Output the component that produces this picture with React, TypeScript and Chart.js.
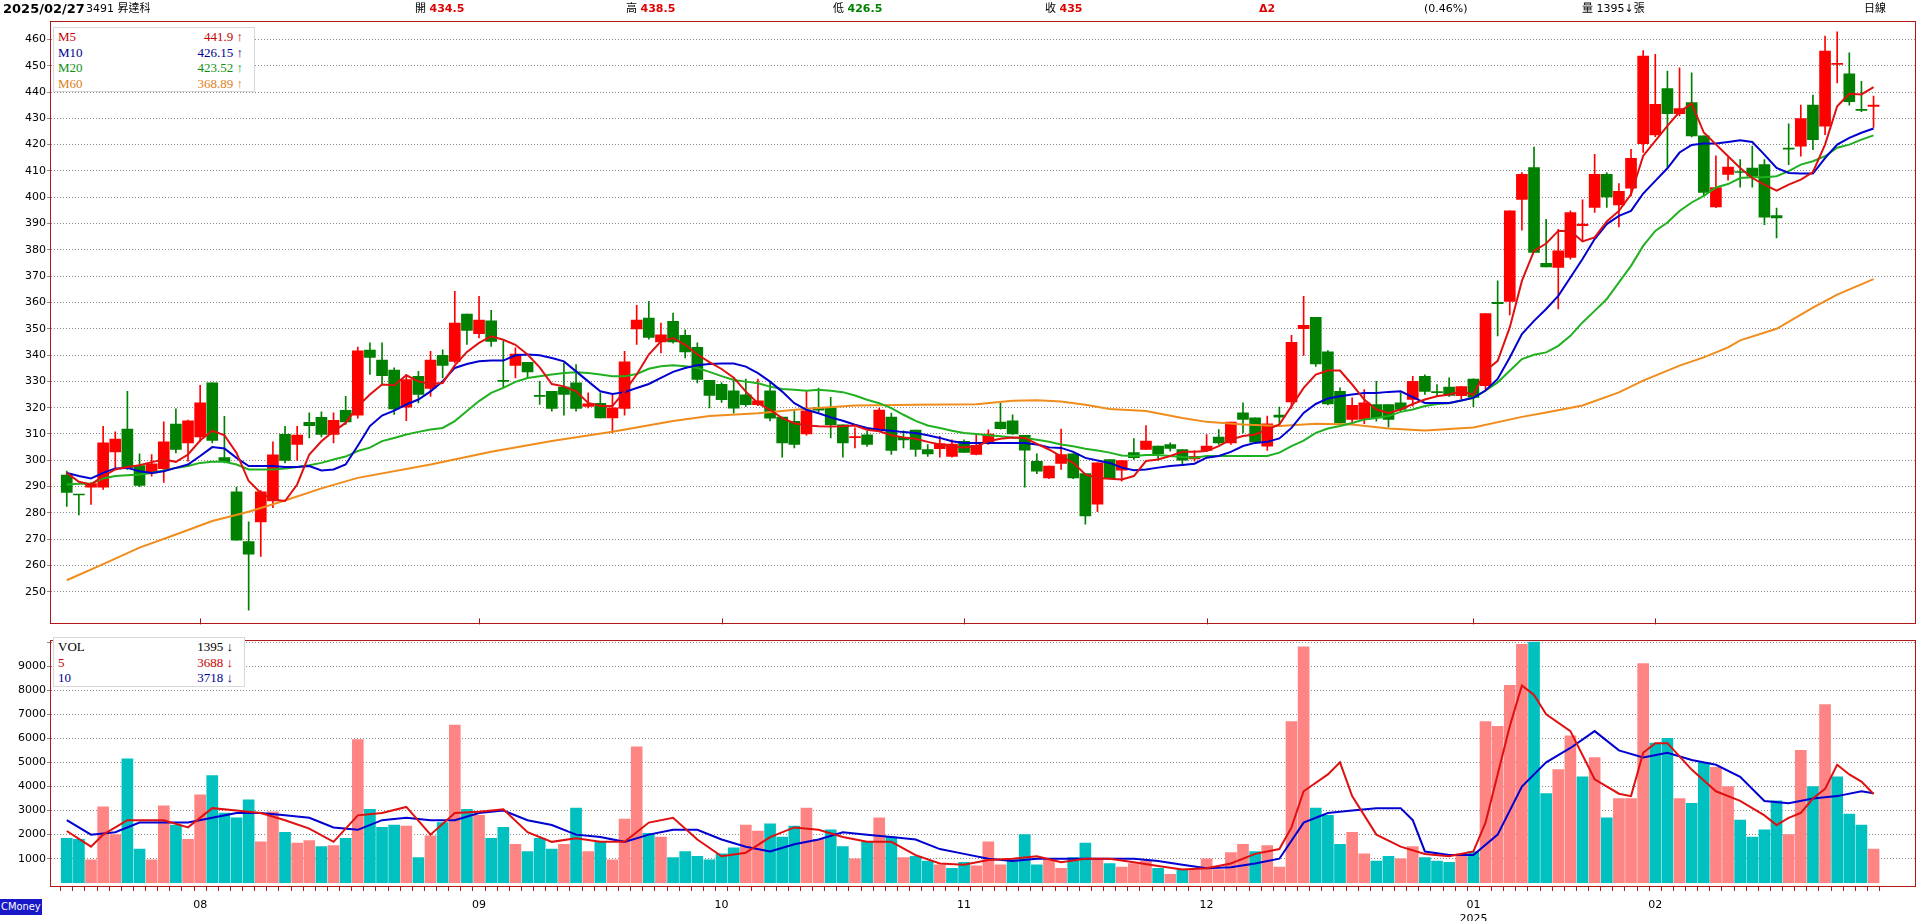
import React, { useEffect, useRef } from "react";
import { Chart, registerables } from "chart.js";

Chart.register(...registerables);

// ---------------- DATA ----------------
const openP = [294.4,287,289.8,289.8,303.2,311.9,298,295.2,296.8,313.8,306.6,308.9,329.4,301,288,269.1,276.6,284.5,309.9,306,314.4,316.3,309.8,319,317.1,341.9,338.1,334.3,320.2,331.9,327.3,339.9,337.6,355.6,348.1,353,330.2,336.1,337.2,324.5,326.2,327.8,329.4,320.5,321.6,316.1,319.7,349.9,354.1,345,352.8,347.5,342.9,330.4,328.9,326.4,324.9,321.1,326.4,316.4,314.8,310,320.1,319.8,313.5,308.6,309.7,311.6,316.4,308.7,311.5,304.1,304.4,301.5,307.2,302.2,307,314.5,315,309.5,299.6,293.3,298.8,302.4,294.9,283.3,300.3,296.2,302.9,304.1,305.4,306,304.1,300.5,303.7,308.8,306.6,318,316.1,305.4,317.2,322.2,350,354.3,341.2,326.2,315.5,315.5,321.2,321.2,321.8,323.1,331.9,326.1,327.8,324.6,330.9,328.4,360,360.4,399.2,411.3,374.9,373.3,377.1,389.2,396.1,408.7,397.1,403.4,420.4,423.7,441.3,431.8,436,423.3,396.3,408.7,409.8,411.1,412.4,393,418.7,419.4,435,427,450.5,446.9,433.2,434.5];
const highP = [295.9,287,291.5,312.9,310.8,326.2,302.4,302.2,314.6,319.6,315.3,328.5,329.4,316.7,289.8,276.6,288.5,307,312.9,312.9,318,318.4,318,324.3,343,344.6,344.6,335.1,332.6,333.8,341.4,342,364.2,355.6,362.3,357,345.2,342.7,337.2,330,326.2,337,336.4,325.6,325.6,325,341.4,358.9,360.4,352.2,356,349.6,344.6,330.4,329.5,331.2,330.9,330.9,329.9,316.4,318.6,326.4,327.4,323.9,313.5,312.3,311,319.8,317.9,311.2,311.5,306,309.1,307.8,307.8,309.5,311.6,321.7,317.3,309.5,302.4,297.8,311.9,302.4,294.9,299,300.3,300,308.2,313.2,305.4,306.6,304.1,303.7,309.8,311.7,314.5,321.8,316.1,316.8,320.2,347.5,362.3,354.3,341.7,327.5,323.7,326.9,330,321.2,325.6,331.9,332.5,328.8,331.3,328,331,355.8,368.2,394.8,409.4,419.1,391.6,387.8,394.8,399,416.3,409.4,405.2,418.2,455.8,454.3,448,449.2,447.3,423.3,415.7,415.1,414.3,419.4,414.3,395.9,427.9,435,438.8,461.3,462.9,454.9,444.1,438.5];
const lowP = [282.5,279.2,283.2,288.9,297.1,296.5,290,294,291.6,302.8,299.7,307.2,306.6,299,269.6,243,263.4,282,299,299.9,308.5,308.9,306.6,313.6,316,332.6,329,317.4,315.1,321.8,324.3,331.3,337,344,346.5,343.3,327.5,331.3,331.3,321.2,318.7,317.1,318.7,319.9,316.1,310.4,317.1,344,346,340.8,344.5,338.9,329.4,319.9,322,317.9,320.5,320.8,315,301.2,304.7,309.5,318.5,308.5,301.2,304.7,305.3,311,302.2,304.7,301.5,301.5,301.2,301.2,303,302,306,311.8,309.8,289.8,294.9,293,296.5,293,275.7,280.5,293,292.1,300.3,304,300,303.5,298.1,299.7,303.5,306,306,310.4,306.7,303.7,313.6,319.7,339.9,335.7,321,314,314.6,313.9,314.9,312.6,318.8,320.6,325,324.3,324.3,323.3,320.4,326.5,347.3,355.3,387.5,379,373.5,357.5,376.5,383.4,394.2,396.1,388.7,400.5,417,423,411.3,430.9,422.9,400.9,396,406.5,403.8,403.8,389.6,384.5,412.4,415.6,418.1,423.8,443.5,435,432.5,426.5];
const closeP = [287.8,286.8,291.1,306.6,308.1,297.1,290.4,298.6,307,304.1,315,321.8,307.5,299.5,269.6,264.3,288,302.1,299.9,309.6,313.2,309.8,315.2,314.6,341.6,339.1,332.2,319.5,330.7,325,338.1,336.1,352.2,349.4,353.3,345.2,330,340.4,333.6,324.3,319.7,325,319.7,321.5,316.1,319.9,337.4,353.3,346.7,347.7,345,341.2,330.7,324.7,323,319.8,321.1,322.6,316,306.6,306,318.8,319,313.5,306.6,308.8,306,319.1,303.7,307.7,304.1,302.4,306.3,306.2,303,305.7,310,312,310,303.8,295.9,297.8,302.2,293.3,278.8,299,293.1,299.9,301,307.3,302.5,304.5,300,301.5,305.4,306.6,314.5,315.5,306.9,313.9,316.4,344.8,351.3,336.6,321.4,314.2,320.9,321.8,316.1,315.5,319.3,330,326.2,325.7,324.7,328,323.9,355.8,359.5,394.8,408.7,379,373.5,379.6,394.2,389.8,408.7,400.1,402.2,414.8,453.7,435.3,431.8,433.7,423.3,401.8,403.7,411.5,409.4,408,392.4,392.1,418.3,429.9,421.9,455.6,450.9,436.3,433,435];

const ma5 = [295.2,291.8,290.8,294,296.5,297.4,298.1,299.3,300.3,299.4,302.2,307.5,311.3,309.5,302.8,292.1,287.6,285.1,284.5,290.8,302.2,307.2,311,314.2,320.5,325,328.8,328.5,332.3,330,329,329.4,336.1,341.2,344.6,347.1,345.8,343.9,340.2,335.3,329,328.1,326.2,321.8,320.6,320.6,326.2,332.6,340.2,345.2,346.5,343.9,340.2,337.3,334.7,331.4,326.1,321.7,319.2,316,314.1,313.2,312.9,312.8,312.9,313.2,311.6,311,309.5,308.7,308.2,307,306,305.3,304.9,305.3,307.2,308.2,308.7,308.5,306.2,304.1,301.5,299,294.6,293.3,293,292.7,294,299.7,300.3,301.6,303.2,303.2,303.5,305.4,307.9,309.2,309.8,311.7,313.6,320.6,327.5,332.6,334.1,334.1,328.8,323.1,319.3,318,319.3,321.4,323.1,324.3,325,326.2,324.9,334,337.8,350.5,368.2,379.6,382.4,387.2,387.2,383.2,384.7,390.8,394.8,401.1,415.7,421.4,427.1,432.5,435.6,424.6,420.1,415.6,411.1,407.3,404.8,402.5,404.8,406.7,409.6,420,434.6,439.3,439.1,441.9];
const ma10 = [295.2,294,293.1,295.2,296.9,297.1,295.8,295.2,295.8,297.1,298.4,301.6,305,304.5,300.9,297.8,297.8,297.8,297.4,297.4,297.8,296.1,296.5,298.4,305.5,313,317,318.9,321.2,323.1,326.2,330,335.1,336.6,337.6,337.9,337.9,339.9,340.2,339.9,338.9,337.6,333.8,330,326.2,325.2,325.9,327.5,329,331.3,333.6,335.1,336.1,336.6,336.8,336.8,335.6,333.1,329.9,326.1,321.7,319.2,317.9,316.3,315,313.5,312.3,311.6,311.2,310.7,310.4,309.5,308.5,307.2,306.6,306.6,306.6,306.6,306.6,306.6,306,304.9,304.7,303.2,300.9,299.9,299,297.2,296.2,296.5,297.2,297.8,298.2,298.7,301,301.6,303.2,305.4,306.6,307,308.3,312.3,318,321.4,323.5,324.3,325,325.6,325.6,326,326.2,324,321.8,321.8,321.8,322.7,323.7,326.5,330.9,339.1,348,353,357.5,362.5,369.5,376.5,384.1,389.8,392.9,394.8,401.4,406.2,411,417,419.9,420.4,420.4,421,421.7,421,416.2,411.1,409.2,409,409,414.9,420,422.6,424.5,426.15];
const ma20 = [290.8,291.1,291.1,293.1,294,294.3,294.6,295.2,296.1,297.1,297.8,299,299.4,299.4,298.4,296.5,296.5,296.5,296.9,297.4,298.1,299,300.3,301.4,303.5,304.8,307.3,308.5,309.8,310.8,311.7,312.3,314.9,318.7,322.5,325.6,327.5,329.8,331.3,331.9,332.6,333.2,333.5,333.2,332.6,331.9,331.9,332.8,334.8,335.7,336.1,335.7,335.1,333.6,332,330.5,329.9,329.3,328,327.1,326.8,326.4,326.8,326.4,325.9,324.6,323,321.7,319.8,317.3,315,313.2,312.3,311.2,310.4,310,309.5,309.1,308.7,308.5,307.8,307,306,305.3,304.4,303.7,302.9,301.8,301.6,302,302,301.6,301.2,301,301.6,301.6,301.6,301.6,301.6,301.6,302.9,305.4,307.5,310.4,312.1,313,314.2,315.5,316.1,316.8,318.4,319.3,320.6,321.4,321.7,322.7,323.7,326.5,329.6,334,338.5,340.1,341,343.5,347.3,352.4,356.8,361.3,367.6,373.9,381.5,387.2,390.4,394.8,398,400.5,403.7,405,407.3,407.6,407.6,408,409.9,412.4,413.7,415.6,418.8,420,421.9,423.52];
const ma60Idx = [0,3,6,9,12,15,18,21,24,30,35,40,45,50,53,57,61,65,70,75,78,80,82,84,86,89,92,94,97,100,103,106,109,112,116,120,122,125,128,130,133,135,137,138,141,144,146,149];
const ma60Val = [254.4,260.5,266.8,271.8,276.9,280.4,284.7,289.3,293.3,298.4,303.2,307.3,310.8,314.9,316.8,317.9,319.6,320.8,321.1,321.3,322.6,322.8,322.3,321.1,319.5,318.7,316.1,314.6,313.6,313,313.9,313.6,312.1,311.3,312.5,316.5,318.2,320.8,325.8,330.3,336,339.1,342.9,345.6,350,358,363,368.89];

const volume = [1850,1800,950,3150,2000,5150,1400,950,3200,2400,1800,3650,4450,2900,2700,3450,1700,2950,2100,1650,1750,1500,1550,1850,5950,3050,2300,2400,2350,1050,1950,2500,6550,3050,2800,1850,2300,1600,1300,1850,1400,1600,3100,1300,1700,950,2650,5650,2050,1900,1050,1300,1100,950,1200,1450,2400,2150,2450,1900,2350,3100,1800,2200,1500,1000,1700,2700,1900,1050,1100,900,750,600,850,700,1700,750,1000,2000,750,950,600,1050,1650,1000,800,650,800,900,600,350,550,600,1000,550,1250,1600,1300,1550,650,6700,9800,3100,2800,1600,2100,1200,900,1100,1000,1500,1050,900,850,1200,1300,6700,6500,8200,9900,10000,3700,4700,6100,4400,5200,2700,3500,3500,9100,5800,6000,3500,3300,5000,4800,4000,2600,1900,2200,3400,2000,5500,4000,7400,4400,2850,2400,1395];
const volMa5Idx = [0,2,3,5,8,10,12,14,16,18,20,22,24,26,28,30,32,34,36,38,40,42,44,46,48,50,52,54,56,58,60,62,64,66,68,70,72,74,76,78,80,82,84,86,88,90,92,94,96,98,100,101,102,104,105,106,108,110,112,114,116,117,118,119,120,121,122,124,126,128,129,130,131,132,134,136,138,140,141,142,143,144,145,146,147,148,149];
const volMa5Val = [2150,1500,2000,2600,2600,2300,3100,3000,2900,2600,2250,1700,2800,2900,3150,2000,2900,2950,3050,2100,1700,1850,1700,1700,2500,2700,1800,1100,1250,1900,2300,2200,1900,1700,1700,1150,800,750,950,1000,1100,850,1000,1000,850,700,550,600,800,1200,1400,2300,3800,4500,5000,3600,2000,1500,1200,1100,1300,2500,4500,6500,8200,7800,7000,6300,4300,3700,3600,5400,5800,5800,4700,3800,3400,2800,2400,2700,2900,3500,3900,4900,4500,4200,3688];
const volMa10Idx = [0,2,4,6,8,10,12,14,16,18,20,22,24,26,28,30,32,34,36,38,40,42,44,46,48,50,52,54,56,58,60,62,64,66,68,70,72,74,76,78,80,82,84,86,88,90,92,94,96,98,100,102,104,106,108,110,111,112,114,116,118,120,122,124,126,128,130,132,134,136,138,140,142,144,146,148,149];
const volMa10Val = [2600,2000,2100,2500,2500,2500,2700,2900,2900,2800,2700,2300,2200,2600,2700,2600,2600,2900,3000,2600,2400,2000,1900,1700,2000,2200,2200,1800,1500,1300,1600,1800,2100,2000,1900,1800,1400,1200,1000,900,1000,1000,1000,1000,1000,900,750,600,650,800,1000,2500,2900,3000,3100,3100,2600,1300,1150,1150,2000,4000,5000,5600,6300,5500,5200,5400,5100,4900,4400,3400,3300,3500,3600,3800,3718];

const priceTicks = [250,260,270,280,290,300,310,320,330,340,350,360,370,380,390,400,410,420,430,440,450,460];
const volTicks = [1000,2000,3000,4000,5000,6000,7000,8000,9000,10000];
const monthTickIdx = [11,34,54,74,94,116,131];
const monthTickText = ["08","09","10","11","12","01","02"];
const yearUnderTick: Record<number, string> = { 116: "2025" };

// ---------------- STYLE ----------------
const X_MIN = -1.3;
const X_MAX = 152.5;
const FRAME = "#b01818";
const CANDLE_UP = "#ff0000";
const CANDLE_DN = "#008000";
const VOL_UP = "#ff8484";
const VOL_DN = "#00c0c0";
const C5 = "#e01010";
const C10 = "#0000d0";
const C20 = "#20b020";
const C60 = "#f08c1c";
const GRID = "#8a8a8a";
const TICK_FONT = { family: "DejaVu Sans, sans-serif", size: 11 };

const idx = closeP.map((_, i) => i);
const candleUp = (i: number) => closeP[i] >= openP[i];
const volUp = (i: number) => (i === 0 ? candleUp(0) : closeP[i] >= closeP[i - 1]);

const framePlugin = {
  id: "frame",
  afterDraw(chart: any) {
    const { ctx, chartArea: a } = chart;
    ctx.save();
    ctx.strokeStyle = FRAME;
    ctx.lineWidth = 1;
    ctx.strokeRect(Math.round(a.left) - 0.5, Math.round(a.top) + 0.5, Math.round(a.right - a.left), Math.round(a.bottom - a.top) - 1);
    ctx.restore();
  },
};

// short month marks along the inside bottom edge of the price panel
const monthMarkPlugin = {
  id: "monthMarks",
  afterDraw(chart: any) {
    const { ctx, chartArea: a, scales } = chart;
    ctx.save();
    ctx.strokeStyle = FRAME;
    ctx.lineWidth = 1;
    ctx.beginPath();
    monthTickIdx.forEach((v) => {
      const px = Math.round(scales.x.getPixelForValue(v)) + 0.5;
      ctx.moveTo(px, a.bottom - 6);
      ctx.lineTo(px, a.bottom);
    });
    ctx.stroke();
    ctx.restore();
  },
};

function lineDs(label: string, xs: number[], ys: number[], color: string) {
  return {
    type: "line" as const,
    label,
    data: xs.map((x, k) => ({ x, y: ys[k] })),
    borderColor: color,
    backgroundColor: color,
    borderWidth: 2,
    pointRadius: 0,
    tension: 0,
    order: 0,
  };
}

export default function App() {
  const mainRef = useRef<HTMLCanvasElement>(null);
  const volRef = useRef<HTMLCanvasElement>(null);

  useEffect(() => {
    const candleColors = idx.map((i) => (candleUp(i) ? CANDLE_UP : CANDLE_DN));
    const main = new Chart(mainRef.current as HTMLCanvasElement, {
      type: "bar",
      data: {
        datasets: [
          lineDs("M5", idx, ma5, C5),
          lineDs("M10", idx, ma10, C10),
          lineDs("M20", idx, ma20, C20),
          lineDs("M60", ma60Idx, ma60Val, C60),
          {
            type: "bar",
            label: "body",
            data: idx.map((i) => ({ x: i, y: [openP[i], closeP[i]] })),
            backgroundColor: candleColors,
            borderWidth: 0,
            barThickness: 11,
            minBarLength: 1,
            grouped: false,
            order: 5,
          } as any,
          {
            type: "bar",
            label: "wick",
            data: idx.map((i) => ({ x: i, y: [lowP[i], highP[i]] })),
            backgroundColor: candleColors,
            borderWidth: 0,
            barThickness: 1,
            minBarLength: 1,
            grouped: false,
            order: 6,
          } as any,
        ],
      },
      options: {
        animation: false,
        responsive: false,
        maintainAspectRatio: false,
        layout: { padding: { top: 21, bottom: 5, left: 0, right: 1 } },
        plugins: { legend: { display: false }, tooltip: { enabled: false } },
        scales: {
          x: {
            type: "linear",
            min: X_MIN,
            max: X_MAX,
            offset: false,
            afterBuildTicks: (s: any) => {
              s.ticks = monthTickIdx.map((v) => ({ value: v }));
            },
            afterFit: (s: any) => {
              s.height = 0;
            },
            grid: { display: false },
            border: { display: false },
            ticks: { display: false },
          },
          y: {
            type: "linear",
            min: 237.6,
            max: 467,
            afterBuildTicks: (s: any) => {
              s.ticks = priceTicks.map((v) => ({ value: v }));
            },
            afterFit: (s: any) => {
              s.width = 51;
            },
            grid: { color: GRID, tickLength: 4, lineWidth: 1 },
            border: { display: false, dash: [1, 2] },
            ticks: { font: TICK_FONT, color: "#000", padding: 1 },
          },
        },
      } as any,
      plugins: [framePlugin, monthMarkPlugin],
    });

    const volColors = idx.map((i) => (volUp(i) ? VOL_UP : VOL_DN));
    const vol = new Chart(volRef.current as HTMLCanvasElement, {
      type: "bar",
      data: {
        datasets: [
          lineDs("5", volMa5Idx, volMa5Val, C5),
          lineDs("10", volMa10Idx, volMa10Val, C10),
          {
            type: "bar",
            label: "VOL",
            data: idx.map((i) => ({ x: i, y: volume[i] })),
            backgroundColor: volColors,
            borderWidth: 0,
            barThickness: 11,
            grouped: false,
            order: 5,
          } as any,
        ],
      },
      options: {
        animation: false,
        responsive: false,
        maintainAspectRatio: false,
        layout: { padding: { top: 3, bottom: 0, left: 0, right: 1 } },
        plugins: { legend: { display: false }, tooltip: { enabled: false } },
        scales: {
          x: {
            type: "linear",
            min: X_MIN,
            max: X_MAX,
            offset: false,
            afterBuildTicks: (s: any) => {
              s.ticks = idx.map((v) => ({ value: v }));
            },
            afterFit: (s: any) => {
              s.height = 34;
            },
            grid: { drawOnChartArea: false, drawTicks: true, tickLength: 4, color: FRAME, tickColor: FRAME },
            border: { display: false },
            ticks: {
              autoSkip: false,
              maxRotation: 0,
              minRotation: 0,
              padding: 8,
              font: TICK_FONT,
              color: "#000",
              callback: (v: any) => {
                const k = monthTickIdx.indexOf(Number(v));
                if (k < 0) return "";
                const y = yearUnderTick[Number(v)];
                return y ? [monthTickText[k], y] : monthTickText[k];
              },
            },
          },
          y: {
            type: "linear",
            min: -175,
            max: 10100,
            afterBuildTicks: (s: any) => {
              s.ticks = volTicks.map((v) => ({ value: v }));
            },
            afterFit: (s: any) => {
              s.width = 51;
            },
            grid: { color: GRID, tickLength: 4 },
            border: { display: false, dash: [1, 2] },
            ticks: {
              font: TICK_FONT,
              color: "#000",
              padding: 1,
              callback: (v: any) => (Number(v) > 9000 ? "" : String(v)),
            },
          },
        },
      } as any,
      plugins: [framePlugin],
    });

    return () => {
      main.destroy();
      vol.destroy();
    };
  }, []);

  const hdr: React.CSSProperties = {
    position: "absolute",
    top: 1,
    fontFamily: "DejaVu Sans, 'Noto Sans CJK TC', sans-serif",
    fontSize: 11,
    lineHeight: "16px",
    whiteSpace: "nowrap",
    color: "#000",
  };
  const legendRow = (top: number, name: string, value: string, color: string): React.ReactNode => (
    <div
      key={name}
      style={{
        position: "absolute",
        left: 4,
        right: 11,
        top,
        height: 16,
        lineHeight: "16px",
        display: "flex",
        justifyContent: "space-between",
        color,
        fontFamily: "'Liberation Serif', serif",
        fontSize: 13,
      }}
    >
      <span>{name}</span>
      <span>{value}</span>
    </div>
  );

  return (
    <div style={{ position: "absolute", left: 0, top: 0, width: 1917, height: 921, background: "#fff", overflow: "hidden" }}>
      <canvas ref={mainRef} width={1917} height={632} style={{ position: "absolute", left: 0, top: 0 }} />
      <canvas ref={volRef} width={1917} height={289} style={{ position: "absolute", left: 0, top: 632 }} />

      <span style={{ ...hdr, left: 3, fontWeight: "bold", fontSize: 13 }}>2025/02/27</span>
      <span style={{ ...hdr, left: 86 }}>3491 昇達科</span>
      <span style={{ ...hdr, left: 415 }}>開 <b style={{ color: "#e00000" }}>434.5</b></span>
      <span style={{ ...hdr, left: 626 }}>高 <b style={{ color: "#e00000" }}>438.5</b></span>
      <span style={{ ...hdr, left: 833 }}>低 <b style={{ color: "#008000" }}>426.5</b></span>
      <span style={{ ...hdr, left: 1045 }}>收 <b style={{ color: "#e00000" }}>435</b></span>
      <span style={{ ...hdr, left: 1259, color: "#e00000", fontWeight: "bold" }}>Δ2</span>
      <span style={{ ...hdr, left: 1424 }}>(0.46%)</span>
      <span style={{ ...hdr, left: 1582 }}>量 1395↓張</span>
      <span style={{ ...hdr, left: 1864 }}>日線</span>

      <div style={{ position: "absolute", left: 53, top: 27, width: 202, height: 65, background: "#fff", border: "1px solid #d8d8d8", boxSizing: "border-box" }}>
        {legendRow(1, "M5", "441.9 ↑", "#c80000")}
        {legendRow(17, "M10", "426.15 ↑", "#000090")}
        {legendRow(32, "M20", "423.52 ↑", "#109010")}
        {legendRow(48, "M60", "368.89 ↑", "#e08020")}
      </div>

      <div style={{ position: "absolute", left: 53, top: 637, width: 192, height: 50, background: "#fff", border: "1px solid #d8d8d8", boxSizing: "border-box" }}>
        {legendRow(1, "VOL", "1395 ↓", "#000")}
        {legendRow(17, "5", "3688 ↓", "#c80000")}
        {legendRow(32, "10", "3718 ↓", "#000090")}
      </div>

      <span
        style={{
          position: "absolute",
          left: 0,
          top: 899,
          height: 16,
          lineHeight: "16px",
          padding: "0 1px",
          background: "#1818c8",
          color: "#fff",
          fontFamily: "DejaVu Sans Condensed, DejaVu Sans, sans-serif",
          fontSize: 11,
        }}
      >
        CMoney
      </span>
    </div>
  );
}
